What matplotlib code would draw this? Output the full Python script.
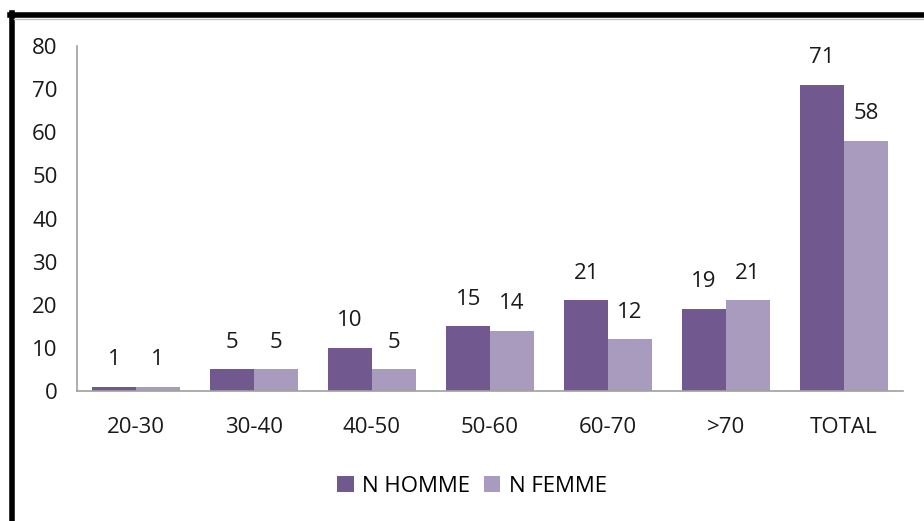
import matplotlib.pyplot as plt
import numpy as np
from matplotlib.lines import Line2D

plt.rcParams['font.family'] = ['Open Sans', 'DejaVu Sans']

# Data
categories = ['20-30', '30-40', '40-50', '50-60', '60-70', '>70', 'TOTAL']
hommes = [1, 5, 10, 15, 21, 19, 71]
femmes = [1, 5, 5, 14, 12, 21, 58]
series_names = ['N HOMME', 'N FEMME']
colors = ['#71588F', '#A99BBD']


def main():
    fig = plt.figure(figsize=(9.24, 5.21), dpi=100)
    ax = fig.add_axes([0.0833, 0.2495, 0.894, 0.6622])

    x = np.arange(len(categories))
    w = 0.37
    b1 = ax.bar(x - w / 2, hommes, w, color=colors[0], label=series_names[0])
    b2 = ax.bar(x + w / 2, femmes, w, color=colors[1], label=series_names[1])

    for bars, vals in [(b1, hommes), (b2, femmes)]:
        for bar, v in zip(bars, vals):
            ax.annotate(str(v), (bar.get_x() + bar.get_width() / 2, v),
                        xytext=(0, 12), textcoords='offset points',
                        ha='center', va='bottom', fontsize=16, color='#1a1a1a')

    ax.set_xlim(-0.5, len(categories) - 0.5)
    ax.set_ylim(0, 80)
    ax.set_yticks(range(0, 81, 10))
    ax.set_xticks(x)
    ax.set_xticklabels(categories)
    ax.tick_params(axis='both', length=0, labelsize=16, colors='#1a1a1a')
    ax.tick_params(axis='x', pad=19)
    ax.tick_params(axis='y', pad=14)
    for s in ['top', 'right']:
        ax.spines[s].set_visible(False)
    for s in ['left', 'bottom']:
        ax.spines[s].set_color('#A0A0A0')
        ax.spines[s].set_linewidth(1.2)

    fig.legend(loc='center', bbox_to_anchor=(0.511, 0.067), ncol=2, frameon=False,
               fontsize=16, handlelength=0.75, handleheight=0.75, handletextpad=0.4,
               columnspacing=0.6)

    # outer frame (top + left black lines)
    fig.add_artist(Line2D([10 / 924, 1], [1 - 15 / 521, 1 - 15 / 521],
                          color='black', linewidth=4, transform=fig.transFigure))
    fig.add_artist(Line2D([12 / 924, 12 / 924], [0, 1 - 13 / 521],
                          color='black', linewidth=4, transform=fig.transFigure))
    fig.add_artist(Line2D([14 / 924, 1], [1 - 19 / 521, 1 - 19 / 521],
                          color='#C0C0C0', linewidth=1, transform=fig.transFigure))

    fig.savefig('out.png', dpi=100)


if __name__ == "__main__":
    main()
